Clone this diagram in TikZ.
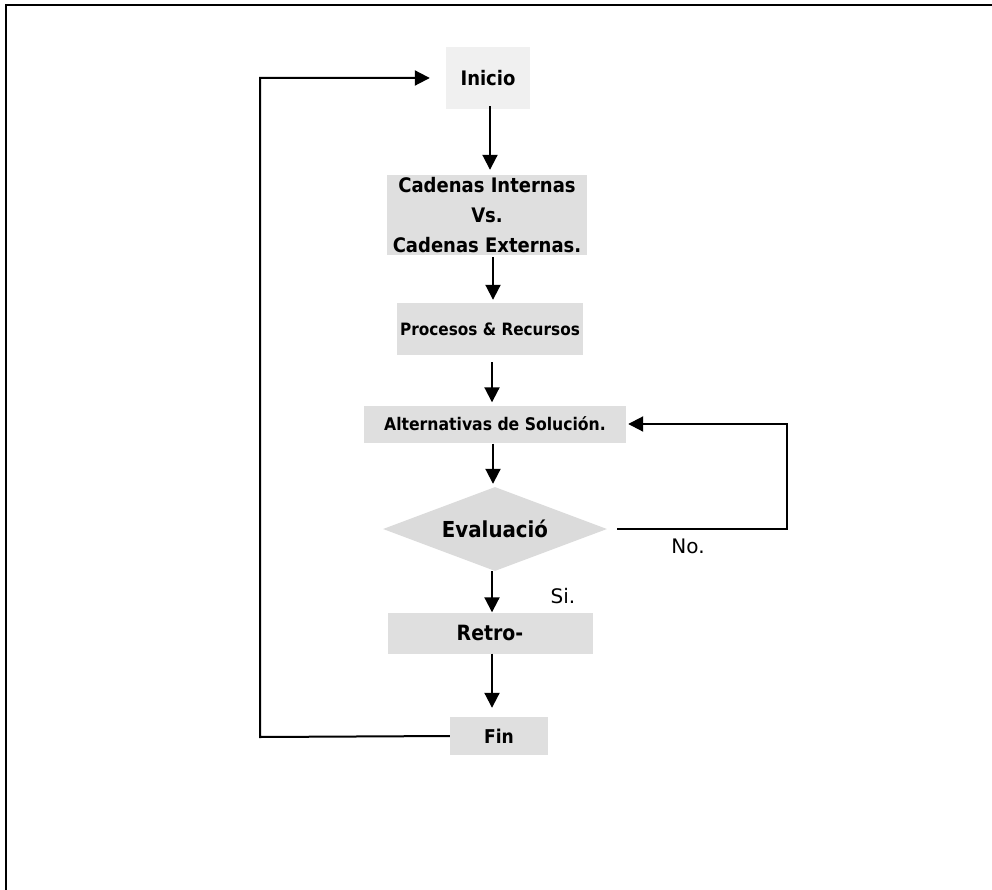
\documentclass[tikz,border=0pt]{standalone}
\usepackage{fontspec}
\setmainfont{DejaVu Sans}
\newfontfamily\boxfont{DejaVu Sans Condensed}
\usetikzlibrary{arrows.meta,shapes.geometric}
\newcommand{\fs}[1]{\fontsize{#1}{30}\selectfont}
\begin{document}
\begin{tikzpicture}[x=1pt,y=-1pt,
  box/.style={fill=gray!25,inner sep=0pt,align=center,font=\boxfont\bfseries\fs{20}},
  lbl/.style={inner sep=0pt,font=\fontsize{20}{22}\selectfont},
  tip/.style={-{Triangle[length=15pt,width=15pt]}},
  conn/.style={line width=2pt,tip},
  loop/.style={line width=2pt,tip}]
\useasboundingbox (0,0) rectangle (992,890);
\draw[line width=2.2pt] (6,890) -- (6,5) -- (992,5);
\node[box,fill=gray!12,minimum width=84,minimum height=62] (inicio) at (488,78) {Inicio};
\node[box,minimum width=200,minimum height=80] (cad) at (487,215) {Cadenas Internas\\Vs.\\Cadenas Externas.};
\node[box,font=\boxfont\bfseries\fs{17}, minimum width=186,minimum height=52] (proc) at (490,329) {Procesos \& Recursos};
\node[box,font=\boxfont\bfseries\fs{17.4},minimum width=262,minimum height=37] (alt) at (495,424) {Alternativas de Solución.};
\node[diamond,aspect=2.6,fill=gray!28,inner sep=0pt,minimum width=224,minimum height=84,font=\boxfont\bfseries\fs{22}] (eval) at (495,529) {Evaluació};
\node[box,font=\boxfont\bfseries\fs{21},minimum width=205,minimum height=41] (retro) at (490,633) {Retro-};
\node[box,font=\boxfont\bfseries\fs{19},minimum width=98,minimum height=38] (fin) at (499,736) {Fin};
\node[lbl] (no) at (688,546) {No.};
\node[lbl] (si) at (563,596) {Si.};
\draw[conn,shorten <=-3pt,shorten >=5pt] (inicio.south -| 490,0) -- (cad.north -| 490,0);
\draw[conn,shorten <=2pt,shorten >=3pt] (cad.south -| 493,0) -- (proc.north -| 493,0);
\draw[conn,shorten <=7pt,shorten >=3pt] (proc.south -| 492,0) -- (alt.north -| 492,0);
\draw[conn,shorten <=1pt,shorten >=3pt] (alt.south -| 493,0) -- (eval.north -| 493,0);
\draw[conn,shorten >=0pt] (eval.south -| 492,0) -- (retro.north -| 492,0);
\draw[conn,shorten >=9pt] (retro.south -| 492,0) -- (fin.north -| 492,0);
\draw[loop,shorten <=10pt,shorten >=2pt] (eval.east) -- (787,529) |- (alt.east);
\draw[loop,shorten >=16pt] (fin.west) -- (260,737) |- (inicio.west);
\end{tikzpicture}
\end{document}
